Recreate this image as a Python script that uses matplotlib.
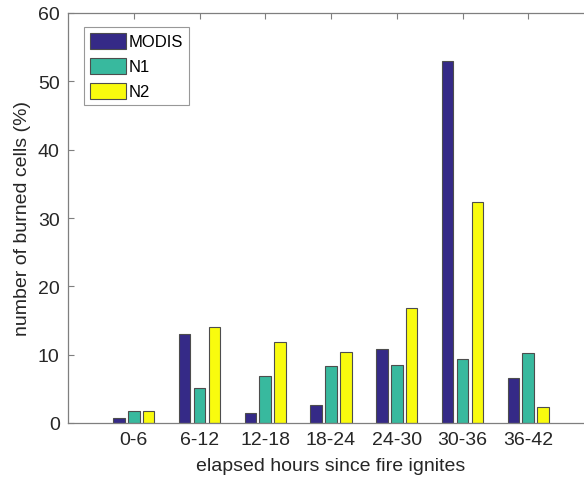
import numpy as np
import matplotlib
matplotlib.use('Agg')
import matplotlib.pyplot as plt

plt.rcParams['font.family'] = ['Liberation Sans', 'DejaVu Sans']

# 数据：各时间段的燃烧格点比例 (%)
categories = ['0-6', '6-12', '12-18', '18-24', '24-30', '30-36', '36-42']
modis = [0.8, 13.0, 1.4, 2.6, 10.8, 53.0, 6.6]
n1 = [1.7, 5.1, 6.9, 8.4, 8.5, 9.3, 10.3]
n2 = [1.7, 14.1, 11.9, 10.4, 16.9, 32.3, 2.3]
series_names = ['MODIS', 'N1', 'N2']
colors = ['#352a87', '#38b99e', '#f9fb0e']

W, H = 584, 485
fig = plt.figure(figsize=(W / 100, H / 100), dpi=100)
# 坐标轴右边界超出画面（原图被裁掉）
left, right, top, bottom = 68, 594, 14, 424
ax = fig.add_axes([left / W, 1 - bottom / H, (right - left) / W, (bottom - top) / H])

x = np.arange(1, len(categories) + 1)
offset = 0.228
width = 0.175
for k, (vals, name, c) in enumerate(zip([modis, n1, n2], series_names, colors)):
    ax.bar(x + (k - 1) * offset, vals, width, color=c, edgecolor='#4d4d4d',
           linewidth=0.8, label=name, zorder=2)

ax.set_xlim(0, 8)
ax.set_ylim(0, 60)
ax.set_xticks(x)
ax.set_xticklabels(categories)
ax.set_yticks(range(0, 61, 10))

for s in ax.spines.values():
    s.set_color('#7f7f7f')
    s.set_linewidth(0.9)
ax.tick_params(direction='in', length=4, width=0.8, color='#7f7f7f',
               labelsize=14, labelcolor='#262626', top=True, right=True, pad=6)

ax.set_xlabel('elapsed hours since fire ignites', fontsize=14, color='#262626', labelpad=6)
ax.set_ylabel('number of burned cells (%)', fontsize=14, color='#262626', labelpad=5)

leg = ax.legend(loc='upper left', bbox_to_anchor=(0.03, 0.966), fontsize=12,
                frameon=True, fancybox=False, edgecolor='#7f7f7f', handlelength=2.2,
                handleheight=1.1, handletextpad=0.15, labelspacing=0.5,
                borderpad=0.35, borderaxespad=0)
leg.get_frame().set_linewidth(0.8)

fig.savefig('out.png', dpi=100)
